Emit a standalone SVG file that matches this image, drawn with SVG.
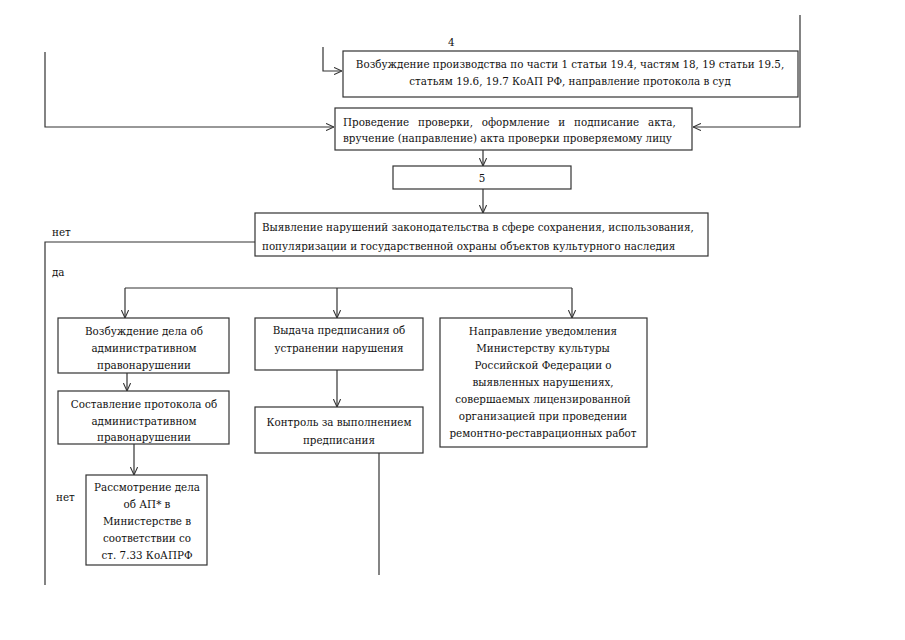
<svg xmlns="http://www.w3.org/2000/svg" width="905" height="640" viewBox="0 0 905 640">
<style>
.box{fill:#fff;stroke:#333;stroke-width:1.2}
.t{font-family:"DejaVu Serif Condensed","DejaVu Serif","Liberation Serif",serif;font-stretch:condensed;font-size:11.5px;fill:#111}
.c{text-anchor:middle}
.ln{fill:none;stroke:#333;stroke-width:1.2}
</style>
<defs>
<marker id="ar" viewBox="0 0 10 10" refX="10" refY="5" markerWidth="8" markerHeight="8" orient="auto" markerUnits="userSpaceOnUse">
<path d="M0,0.5 L10,5 L0,9.5" fill="none" stroke="#333" stroke-width="1.3"/>
</marker>
</defs>
<rect width="905" height="640" fill="#fff"/>
<g id="connectors">
<path class="ln" d="M800,15 V127 H693" marker-end="url(#ar)"/>
<path class="ln" d="M45,52 V127 H334" marker-end="url(#ar)"/>
<path class="ln" d="M323,47 V71 H342" marker-end="url(#ar)"/>
<path class="ln" d="M483,150 V166" marker-end="url(#ar)"/>
<path class="ln" d="M483,189 V213" marker-end="url(#ar)"/>
<path class="ln" d="M255,242 H45 V585"/>
<path class="ln" d="M125,288 H572"/>
<path class="ln" d="M125,288 V318" marker-end="url(#ar)"/>
<path class="ln" d="M337,288 V318" marker-end="url(#ar)"/>
<path class="ln" d="M572,288 V318" marker-end="url(#ar)"/>
<path class="ln" d="M127,373 V391" marker-end="url(#ar)"/>
<path class="ln" d="M134,444 V475" marker-end="url(#ar)"/>
<path class="ln" d="M337,370 V407" marker-end="url(#ar)"/>
<path class="ln" d="M379,453 V575"/>
</g>
<g id="labels">
<text class="t" x="52" y="236">нет</text>
<text class="t" x="52" y="276">да</text>
<text class="t" x="56" y="501">нет</text>
<text class="t" x="448" y="46">4</text>
</g>
<g id="node4">
<rect class="box" x="343" y="51" width="455" height="46"/>
<text class="t c" x="570" y="68">Возбуждение производства по части 1 статьи 19.4, частям 18, 19 статьи 19.5,</text>
<text class="t c" x="570" y="85">статьям 19.6, 19.7 КоАП РФ, направление протокола в суд</text>
</g>
<g id="node3">
<rect class="box" x="335" y="108" width="357" height="42"/>
<text class="t" x="343" y="126" word-spacing="5.5">Проведение проверки, оформление и подписание акта,</text>
<text class="t" x="343" y="142">вручение (направление) акта проверки проверяемому лицу</text>
</g>
<g id="node5">
<rect class="box" x="393" y="166" width="178" height="23"/>
<text class="t c" x="482" y="182">5</text>
</g>
<g id="node6">
<rect class="box" x="255" y="213" width="453" height="43"/>
<text class="t" x="262" y="231">Выявление нарушений законодательства в сфере сохранения, использования,</text>
<text class="t" x="262" y="250">популяризации и государственной охраны объектов культурного наследия</text>
</g>
<g id="nodeA1">
<rect class="box" x="58" y="318" width="171" height="55"/>
<text class="t c" x="144" y="335">Возбуждение дела об</text>
<text class="t c" x="144" y="352">административном</text>
<text class="t c" x="144" y="369">правонарушении</text>
</g>
<g id="nodeA2">
<rect class="box" x="58" y="391" width="171" height="53"/>
<text class="t c" x="144" y="408">Составление протокола об</text>
<text class="t c" x="144" y="425">административном</text>
<text class="t c" x="144" y="441">правонарушении</text>
</g>
<g id="nodeA3">
<rect class="box" x="86" y="475" width="121" height="90"/>
<text class="t c" x="147" y="491">Рассмотрение дела</text>
<text class="t c" x="147" y="508">об АП* в</text>
<text class="t c" x="147" y="525">Министерстве в</text>
<text class="t c" x="147" y="542">соответствии со</text>
<text class="t c" x="147" y="559">ст. 7.33 КоАПРФ</text>
</g>
<g id="nodeB1">
<rect class="box" x="255" y="318" width="168" height="52"/>
<text class="t c" x="339" y="334">Выдача предписания об</text>
<text class="t c" x="339" y="352">устранении нарушения</text>
</g>
<g id="nodeB2">
<rect class="box" x="255" y="407" width="168" height="46"/>
<text class="t c" x="339" y="426">Контроль за выполнением</text>
<text class="t c" x="339" y="444">предписания</text>
</g>
<g id="nodeC">
<rect class="box" x="440" y="318" width="207" height="129"/>
<text class="t c" x="543" y="335">Направление уведомления</text>
<text class="t c" x="543" y="352">Министерству культуры</text>
<text class="t c" x="543" y="369">Российской Федерации о</text>
<text class="t c" x="543" y="386">выявленных нарушениях,</text>
<text class="t c" x="543" y="403">совершаемых лицензированной</text>
<text class="t c" x="543" y="420">организацией при проведении</text>
<text class="t c" x="543" y="437">ремонтно-реставрационных работ</text>
</g>
</svg>
